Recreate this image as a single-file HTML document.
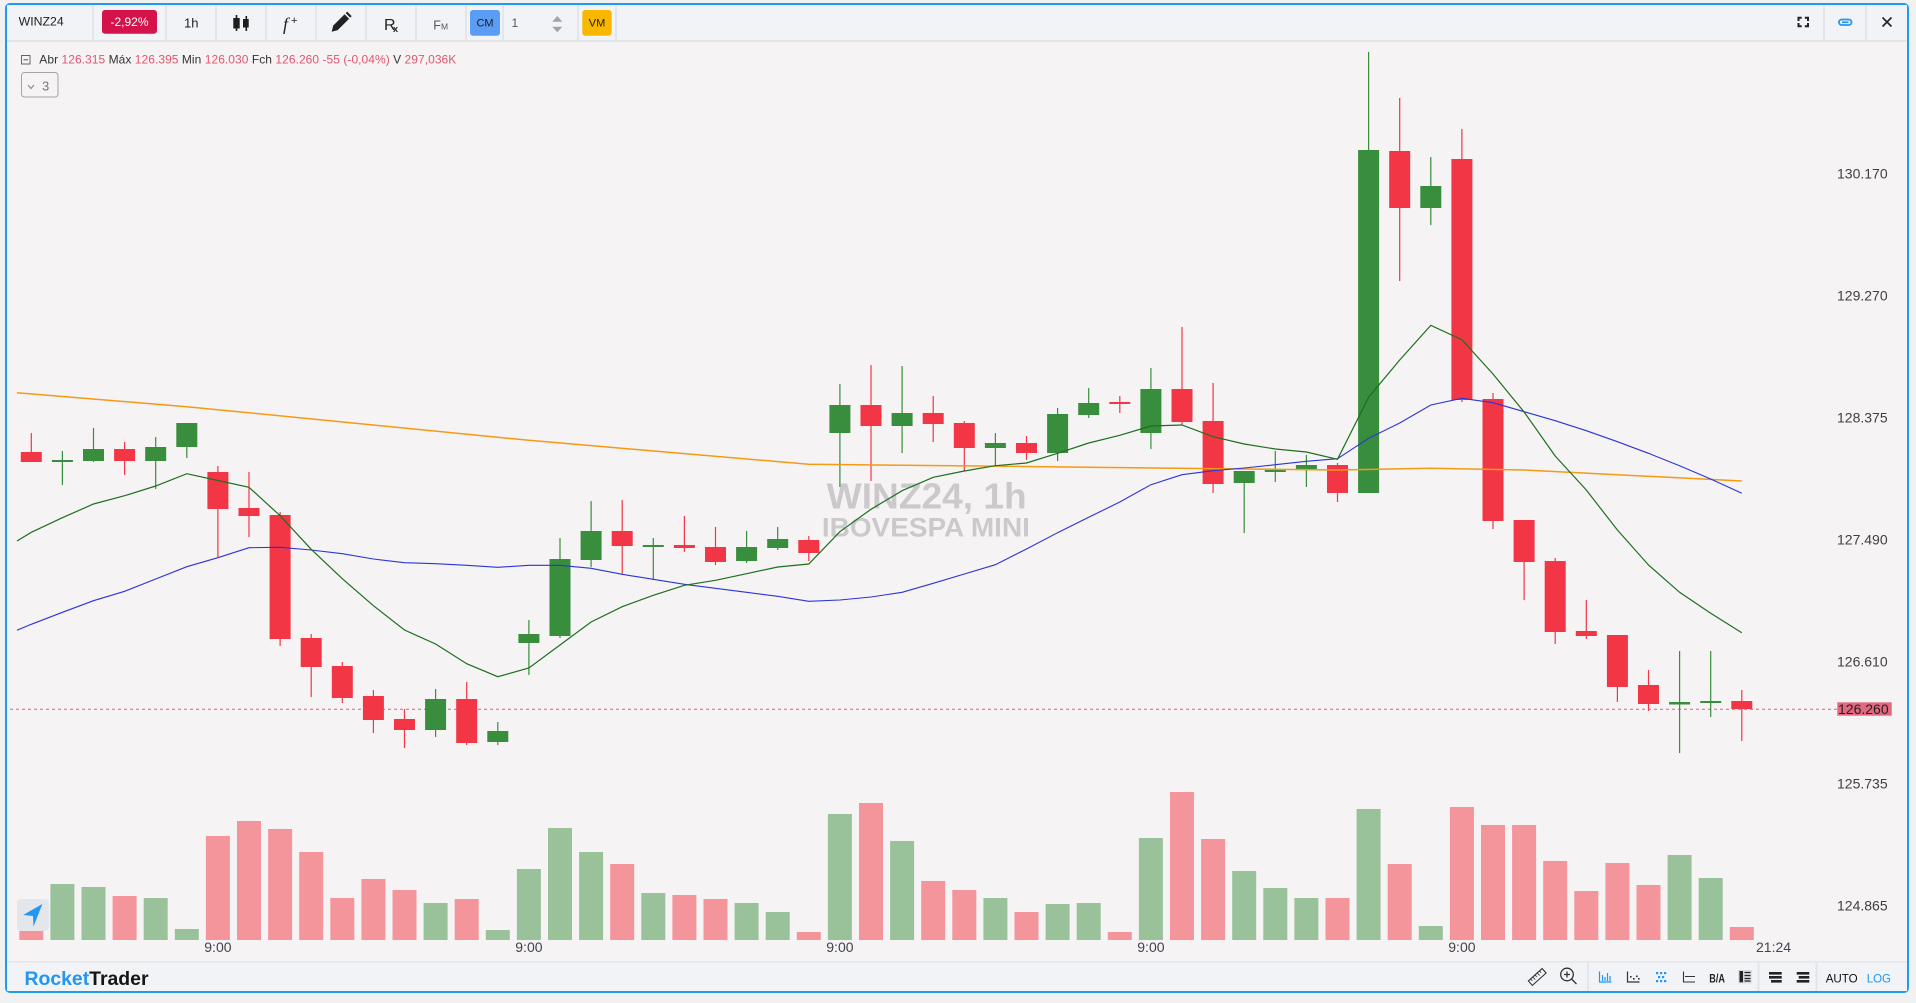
<!DOCTYPE html>
<html><head><meta charset="utf-8"><style>
html,body{margin:0;padding:0;background:#f1f1f1;}
body{width:1916px;height:1003px;position:relative;overflow:hidden;}
svg{position:absolute;left:0;top:0;}
</style></head><body>
<svg width="1916" height="1003" viewBox="0 0 1916 1003" font-family="Liberation Sans, sans-serif">
<rect x="0" y="0" width="1916" height="1003" fill="#f1f1f1"/>
<rect x="6" y="4" width="1902" height="988" rx="4" fill="#f5f3f4" stroke="#1e9bf0" stroke-width="2"/>
<!-- toolbar -->
<rect x="7" y="5" width="1900" height="35" fill="#f1f3f6"/>
<rect x="7" y="40" width="1900" height="2" fill="#e2e5e9"/>
<g fill="#e2e5e9">
<rect x="92" y="5" width="2" height="35"/><rect x="165" y="5" width="2" height="35"/><rect x="215" y="5" width="2" height="35"/>
<rect x="265" y="5" width="2" height="35"/><rect x="315" y="5" width="2" height="35"/><rect x="365" y="5" width="2" height="35"/>
<rect x="415" y="5" width="2" height="35"/><rect x="465" y="5" width="2" height="35"/><rect x="502" y="5" width="2" height="35"/>
<rect x="577" y="5" width="2" height="35"/><rect x="615" y="5" width="2" height="35"/>
<rect x="1823" y="5" width="2" height="35"/><rect x="1865" y="5" width="2" height="35"/>
</g>
<text x="18.7" y="25.3" font-size="12" fill="#222" textLength="45" lengthAdjust="spacingAndGlyphs">WINZ24</text>
<rect x="102" y="10" width="55" height="23.7" rx="3" fill="#d3134a"/>
<text x="129.5" y="26" font-size="12" fill="#fff" text-anchor="middle">-2,92%</text>
<text x="184" y="27.5" font-size="13" fill="#222">1h</text>
<g fill="#1e1e1e">
<rect x="235.7" y="15" width="1.6" height="16"/><rect x="233.3" y="18" width="6.4" height="10.5"/>
<rect x="245.5" y="16" width="1.6" height="15"/><rect x="243" y="19" width="5.7" height="8.5"/>
</g>
<text x="283" y="30" font-family="Liberation Serif, serif" font-style="italic" font-size="18" fill="#222">f</text>
<text x="291" y="24" font-size="11" fill="#222">+</text>
<path d="M331.7 31.7 L333.2 25.6 L344.6 14.2 L349.1 18.7 L337.7 30.1 Z" fill="#222"/>
<path d="M345.7 13.1 L347.2 11.6 L351.7 16.1 L350.2 17.6 Z" fill="#222"/>
<text x="384" y="30" font-size="16" fill="#222">R</text>
<text x="393" y="32" font-size="9" font-weight="bold" fill="#222">x</text>
<text x="433.3" y="29.3" font-size="12.5" fill="#555">F</text>
<text x="441" y="29.3" font-size="8.5" fill="#555">M</text>
<rect x="470" y="10" width="30" height="25.7" rx="3" fill="#5b9df5"/>
<text x="485" y="26.7" font-size="11" fill="#1a1a2a" text-anchor="middle">CM</text>
<text x="511.5" y="27" font-size="12" fill="#555">1</text>
<path d="M552.3 21.7 L557.3 16 L562.3 21.7 Z" fill="#a0a4aa"/>
<path d="M552.3 26.7 L562.3 26.7 L557.3 32.3 Z" fill="#a0a4aa"/>
<rect x="582.3" y="10" width="29.4" height="25.7" rx="3" fill="#f8b800"/>
<text x="597" y="26.7" font-size="11" fill="#1a1a1a" text-anchor="middle">VM</text>
<path d="M1798.5 21 V17.8 H1801.7 M1804.8 17.8 H1808 V21 M1808 23 V26.2 H1804.8 M1801.7 26.2 H1798.5 V23" stroke="#222" stroke-width="2" fill="none"/>
<rect x="1839" y="19.5" width="12.5" height="5.5" rx="2.7" fill="none" stroke="#2196f3" stroke-width="1.8"/>
<rect x="1842" y="21.4" width="6.5" height="1.7" fill="#2196f3"/>
<path d="M1882.5 17.5 L1891.5 26.5 M1891.5 17.5 L1882.5 26.5" stroke="#222" stroke-width="1.6"/>
<!-- legend -->
<rect x="21.5" y="55.5" width="8.5" height="8.5" fill="none" stroke="#666" stroke-width="1"/>
<rect x="23.5" y="59.3" width="4.5" height="1" fill="#555"/>
<text x="39.3" y="63.6" font-size="12" fill="#333" textLength="417" lengthAdjust="spacing">Abr <tspan fill="#e0566f">126.315</tspan> Máx <tspan fill="#e0566f">126.395</tspan> Min <tspan fill="#e0566f">126.030</tspan> Fch <tspan fill="#e0566f">126.260 -55 (-0,04%)</tspan> V <tspan fill="#e0566f">297,036K</tspan></text>
<rect x="21.5" y="72.5" width="36.5" height="24.5" rx="3" fill="none" stroke="#a4a4a4" stroke-width="1"/>
<path d="M28 85 L31 88.5 L34 85" fill="none" stroke="#888" stroke-width="1.1"/>
<text x="42" y="90.5" font-size="13" fill="#777">3</text>
<!-- watermark -->
<text x="926.7" y="508.3" font-size="36" font-weight="bold" fill="#cbc9cb" text-anchor="middle" textLength="200" lengthAdjust="spacingAndGlyphs">WINZ24, 1h</text>
<text x="925.9" y="536.7" font-size="27" font-weight="bold" fill="#cbc9cb" text-anchor="middle" textLength="208" lengthAdjust="spacingAndGlyphs">IBOVESPA MINI</text>
<!-- volume -->
<g fill="#f4959b">
<rect x="19.3" y="931" width="24" height="9"/><rect x="112.6" y="896" width="24" height="44"/>
<rect x="205.9" y="836" width="24" height="104"/><rect x="237" y="821" width="24" height="119"/>
<rect x="268.1" y="829" width="24" height="111"/><rect x="299.2" y="852" width="24" height="88"/>
<rect x="330.3" y="898" width="24" height="42"/><rect x="361.4" y="879" width="24" height="61"/>
<rect x="392.5" y="890" width="24" height="50"/><rect x="454.7" y="899" width="24" height="41"/>
<rect x="610.2" y="864" width="24" height="76"/><rect x="672.4" y="895" width="24" height="45"/>
<rect x="703.5" y="899" width="24" height="41"/><rect x="796.8" y="932" width="24" height="8"/>
<rect x="859" y="803" width="24" height="137"/><rect x="921.2" y="881" width="24" height="59"/>
<rect x="952.3" y="890" width="24" height="50"/><rect x="1014.5" y="912" width="24" height="28"/>
<rect x="1107.8" y="932" width="24" height="8"/><rect x="1170" y="792" width="24" height="148"/>
<rect x="1201.1" y="839" width="24" height="101"/><rect x="1325.5" y="898" width="24" height="42"/>
<rect x="1387.7" y="864" width="24" height="76"/><rect x="1449.9" y="807" width="24" height="133"/>
<rect x="1481" y="825" width="24" height="115"/><rect x="1512.1" y="825" width="24" height="115"/>
<rect x="1543.2" y="861" width="24" height="79"/><rect x="1574.3" y="891" width="24" height="49"/>
<rect x="1605.4" y="863" width="24" height="77"/><rect x="1636.5" y="885" width="24" height="55"/>
<rect x="1729.8" y="927" width="24" height="13"/>
</g>
<g fill="#99c29a">
<rect x="50.4" y="884" width="24" height="56"/><rect x="81.5" y="887" width="24" height="53"/>
<rect x="143.7" y="898" width="24" height="42"/><rect x="174.8" y="929" width="24" height="11"/>
<rect x="423.6" y="903" width="24" height="37"/><rect x="485.8" y="930" width="24" height="10"/>
<rect x="516.9" y="869" width="24" height="71"/><rect x="548" y="828" width="24" height="112"/>
<rect x="579.1" y="852" width="24" height="88"/><rect x="641.3" y="893" width="24" height="47"/>
<rect x="734.6" y="903" width="24" height="37"/><rect x="765.7" y="912" width="24" height="28"/>
<rect x="827.9" y="814" width="24" height="126"/><rect x="890.1" y="841" width="24" height="99"/>
<rect x="983.4" y="898" width="24" height="42"/><rect x="1045.6" y="904" width="24" height="36"/>
<rect x="1076.7" y="903" width="24" height="37"/><rect x="1138.9" y="838" width="24" height="102"/>
<rect x="1232.2" y="871" width="24" height="69"/><rect x="1263.3" y="888" width="24" height="52"/>
<rect x="1294.4" y="898" width="24" height="42"/><rect x="1356.6" y="809" width="24" height="131"/>
<rect x="1418.8" y="926" width="24" height="14"/><rect x="1667.6" y="855" width="24" height="85"/>
<rect x="1698.7" y="878" width="24" height="62"/>
</g>
<!-- nav button -->
<rect x="17" y="899" width="32" height="32" rx="4" fill="#e3e6eb"/>
<polygon points="42.4,904 23.2,915 33,916 33.5,926.5" fill="#2196f3"/>
<!-- price line -->
<line x1="10" y1="709.3" x2="1837" y2="709.3" stroke="#e0607a" stroke-width="1" stroke-dasharray="3,3"/>
<!-- candles red -->
<g fill="#f23645">
<rect x="30.7" y="433" width="1.2" height="29"/><rect x="20.8" y="452" width="21" height="10"/>
<rect x="124" y="442" width="1.2" height="33"/><rect x="114.1" y="449" width="21" height="12"/>
<rect x="217.3" y="466" width="1.2" height="91"/><rect x="207.4" y="472" width="21" height="37"/>
<rect x="248.4" y="472" width="1.2" height="65"/><rect x="238.5" y="508" width="21" height="8"/>
<rect x="279.5" y="512" width="1.2" height="134"/><rect x="269.6" y="515" width="21" height="124"/>
<rect x="310.6" y="634" width="1.2" height="63"/><rect x="300.7" y="638" width="21" height="29"/>
<rect x="341.7" y="662" width="1.2" height="41"/><rect x="331.8" y="666" width="21" height="32"/>
<rect x="372.8" y="690" width="1.2" height="43"/><rect x="362.9" y="696" width="21" height="24"/>
<rect x="403.9" y="709" width="1.2" height="39"/><rect x="394" y="719" width="21" height="11"/>
<rect x="466.1" y="682" width="1.2" height="63"/><rect x="456.2" y="699" width="21" height="44"/>
<rect x="621.6" y="500" width="1.2" height="74"/><rect x="611.7" y="531" width="21" height="15"/>
<rect x="683.8" y="516" width="1.2" height="36"/><rect x="673.9" y="545" width="21" height="3"/>
<rect x="714.9" y="527" width="1.2" height="38"/><rect x="705" y="547" width="21" height="15"/>
<rect x="808.2" y="536" width="1.2" height="25"/><rect x="798.3" y="540" width="21" height="13"/>
<rect x="870.4" y="365" width="1.2" height="116"/><rect x="860.5" y="405" width="21" height="21"/>
<rect x="932.6" y="396" width="1.2" height="46"/><rect x="922.7" y="413" width="21" height="11"/>
<rect x="963.7" y="421" width="1.2" height="50"/><rect x="953.8" y="423" width="21" height="25"/>
<rect x="1025.9" y="436" width="1.2" height="24"/><rect x="1016" y="443" width="21" height="10"/>
<rect x="1119.2" y="396" width="1.2" height="17"/><rect x="1109.3" y="402" width="21" height="2"/>
<rect x="1181.4" y="327" width="1.2" height="98"/><rect x="1171.5" y="389" width="21" height="33"/>
<rect x="1212.5" y="383" width="1.2" height="110"/><rect x="1202.6" y="421" width="21" height="63"/>
<rect x="1336.9" y="463" width="1.2" height="39"/><rect x="1327" y="465" width="21" height="28"/>
<rect x="1399.1" y="98" width="1.2" height="183"/><rect x="1389.2" y="151" width="21" height="57"/>
<rect x="1461.3" y="129" width="1.2" height="273"/><rect x="1451.4" y="159" width="21" height="241"/>
<rect x="1492.4" y="393" width="1.2" height="136"/><rect x="1482.5" y="399" width="21" height="122"/>
<rect x="1523.5" y="520" width="1.2" height="80"/><rect x="1513.6" y="520" width="21" height="42"/>
<rect x="1554.6" y="558" width="1.2" height="86"/><rect x="1544.7" y="561" width="21" height="71"/>
<rect x="1585.7" y="600" width="1.2" height="39"/><rect x="1575.8" y="631" width="21" height="5"/>
<rect x="1616.8" y="635" width="1.2" height="67"/><rect x="1606.9" y="635" width="21" height="52"/>
<rect x="1647.9" y="670" width="1.2" height="41"/><rect x="1638" y="685" width="21" height="19"/>
<rect x="1741.2" y="690" width="1.2" height="51"/><rect x="1731.3" y="701" width="21" height="8"/>
</g>
<!-- candles green -->
<g fill="#388e3c">
<rect x="61.8" y="451" width="1.2" height="34"/><rect x="51.9" y="460" width="21" height="2"/>
<rect x="92.9" y="428" width="1.2" height="34"/><rect x="83" y="449" width="21" height="12"/>
<rect x="155.1" y="437" width="1.2" height="52"/><rect x="145.2" y="447" width="21" height="14"/>
<rect x="186.2" y="423" width="1.2" height="35"/><rect x="176.3" y="423" width="21" height="24"/>
<rect x="435" y="689" width="1.2" height="48"/><rect x="425.1" y="699" width="21" height="31"/>
<rect x="497.2" y="722" width="1.2" height="23"/><rect x="487.3" y="731" width="21" height="11"/>
<rect x="528.3" y="620" width="1.2" height="55"/><rect x="518.4" y="634" width="21" height="9"/>
<rect x="559.4" y="538" width="1.2" height="100"/><rect x="549.5" y="559" width="21" height="77"/>
<rect x="590.5" y="501" width="1.2" height="66"/><rect x="580.6" y="531" width="21" height="29"/>
<rect x="652.7" y="538" width="1.2" height="42"/><rect x="642.8" y="545" width="21" height="2"/>
<rect x="746" y="531" width="1.2" height="32"/><rect x="736.1" y="547" width="21" height="14"/>
<rect x="777.1" y="527" width="1.2" height="23"/><rect x="767.2" y="539" width="21" height="9"/>
<rect x="839.3" y="384" width="1.2" height="103"/><rect x="829.4" y="405" width="21" height="28"/>
<rect x="901.5" y="366" width="1.2" height="87"/><rect x="891.6" y="413" width="21" height="13"/>
<rect x="994.8" y="433" width="1.2" height="33"/><rect x="984.9" y="443" width="21" height="5"/>
<rect x="1057" y="408" width="1.2" height="53"/><rect x="1047.1" y="414" width="21" height="39"/>
<rect x="1088.1" y="388" width="1.2" height="30"/><rect x="1078.2" y="403" width="21" height="12"/>
<rect x="1150.3" y="368" width="1.2" height="81"/><rect x="1140.4" y="389" width="21" height="44"/>
<rect x="1243.6" y="471" width="1.2" height="62"/><rect x="1233.7" y="471" width="21" height="12"/>
<rect x="1274.7" y="451" width="1.2" height="31"/><rect x="1264.8" y="470" width="21" height="2"/>
<rect x="1305.8" y="455" width="1.2" height="32"/><rect x="1295.9" y="465" width="21" height="5"/>
<rect x="1368" y="52" width="1.2" height="441"/><rect x="1358.1" y="150" width="21" height="343"/>
<rect x="1430.2" y="157" width="1.2" height="68"/><rect x="1420.3" y="186" width="21" height="22"/>
<rect x="1679" y="651" width="1.2" height="102"/><rect x="1669.1" y="702" width="21" height="2.5"/>
<rect x="1710.1" y="651" width="1.2" height="66"/><rect x="1700.2" y="701" width="21" height="2"/>
</g>
<!-- moving averages -->
<polyline fill="none" stroke="#f59a14" stroke-width="1.5" points="17,392.7 186.8,406.7 528.9,440.3 808.8,464.3 1045,466.7 1244.2,469 1337.5,470 1430.8,468.3 1524.1,470 1741.8,481"/>
<polyline fill="none" stroke="#2b35d6" stroke-width="1.1" points="17,630.3 31.3,624.3 62.4,612.3 93.5,600.7 124.6,591.3 155.7,579 186.8,566.7 217.9,557.7 249,547.7 280.1,547.3 311.2,550 342.3,553.7 373.4,559 404.5,562.7 435.6,563.7 466.7,565.3 497.8,567.3 528.9,565.3 560,565.3 591.1,568.3 622.2,574.3 653.3,579.3 684.4,584.3 715.5,588.3 746.6,592.3 777.7,596.3 808.8,601.3 839.9,600 871,597 902.1,592.3 933.2,583.3 964.3,574 995.4,564.7 1026.5,549 1057.6,532.7 1088.7,517.3 1119.8,502 1150.9,484.7 1182,474.7 1213.1,470.7 1244.2,468 1275.3,464.7 1306.4,461.3 1337.5,458.7 1368.6,438.3 1399.7,423 1430.8,405 1461.9,398.3 1493,402.7 1524.1,411.7 1555.2,420.7 1586.3,430.7 1617.4,441.7 1648.5,453.3 1679.6,465.7 1710.7,479 1741.8,493.3"/>
<polyline fill="none" stroke="#1f6f1f" stroke-width="1.2" points="17,541 31.3,532.3 62.4,517.7 93.5,504 124.6,495.7 155.7,486 186.8,473.7 217.9,480.5 249,487.3 280.1,515.7 311.2,549.3 342.3,578.7 373.4,605.7 404.5,630 435.6,644 466.7,663.7 497.8,676.7 528.9,668 560,645 591.1,622 622.2,606.7 653.3,595.3 684.4,585.3 715.5,580.3 746.6,573.7 777.7,567 808.8,564 839.9,531.7 871,509.3 902.1,490.7 933.2,477.3 964.3,471 995.4,465.7 1026.5,463 1057.6,453.3 1088.7,443 1119.8,435.3 1150.9,426 1182,425 1213.1,436.7 1244.2,444 1275.3,449 1306.4,452 1337.5,459.3 1368.6,397.3 1399.7,360 1430.8,325.3 1461.9,339.7 1493,374 1524.1,412 1555.2,456 1586.3,490 1617.4,530 1648.5,565 1679.6,592.3 1710.7,613.3 1741.8,632.7"/>
<!-- price axis -->
<g font-size="14" fill="#3f3f3f">
<text x="1837" y="178.3">130.170</text>
<text x="1837" y="300.3">129.270</text>
<text x="1837" y="422.3">128.375</text>
<text x="1837" y="544.3">127.490</text>
<text x="1837" y="666.3">126.610</text>
<text x="1837" y="788.3">125.735</text>
<text x="1837" y="910.5">124.865</text>
</g>
<rect x="1837.3" y="702.3" width="54.4" height="13.4" fill="#e2687f"/>
<text x="1838" y="714.2" font-size="14" fill="#222">126.260</text>
<!-- time axis -->
<g font-size="14" fill="#41434d" text-anchor="middle">
<text x="217.9" y="952">9:00</text>
<text x="528.9" y="952">9:00</text>
<text x="839.9" y="952">9:00</text>
<text x="1150.9" y="952">9:00</text>
<text x="1461.9" y="952">9:00</text>
</g>
<text x="1756" y="952" font-size="14" fill="#41434d">21:24</text>
<!-- bottom bar -->
<rect x="7" y="962" width="1900" height="29" fill="#f1f3f6"/>
<rect x="7" y="961" width="1900" height="1.5" fill="#e2e5e9"/>
<g fill="#e2e5e9">
<rect x="1587" y="962" width="2" height="29"/><rect x="1757.5" y="962" width="2" height="29"/><rect x="1815.5" y="962" width="2" height="29"/>
</g>
<text x="24.5" y="985" font-size="19" font-weight="bold" textLength="124" lengthAdjust="spacingAndGlyphs"><tspan fill="#2196f3">Rocket</tspan><tspan fill="#151515">Trader</tspan></text>
<g transform="rotate(-42 1537.2 977)">
<rect x="1528" y="974" width="18.5" height="6" fill="none" stroke="#333" stroke-width="1.1"/>
<path d="M1531 974 V976.5 M1534 974 V977.5 M1537 974 V976.5 M1540 974 V977.5 M1543 974 V976.5" stroke="#333" stroke-width="0.9"/>
</g>
<circle cx="1567" cy="974.5" r="6.3" fill="none" stroke="#333" stroke-width="1.3"/>
<path d="M1564 974.5 H1570 M1567 971.5 V977.5 M1571.5 979 L1576.5 984" stroke="#333" stroke-width="1.3"/>
<path d="M1599.5 971.5 V982 H1611.5 M1602.5 975 V981 M1605 977 V981 M1607.5 973 V981 M1610 976 V981" stroke="#2196f3" stroke-width="1.2" fill="none"/>
<path d="M1627.5 971.5 V982 H1639.5" stroke="#333" stroke-width="1.2" fill="none"/>
<g fill="#333"><rect x="1630" y="976" width="1.6" height="1.6"/><rect x="1633" y="978" width="1.6" height="1.6"/><rect x="1636" y="975.5" width="1.6" height="1.6"/><rect x="1638" y="978" width="1.6" height="1.6"/></g>
<g fill="#2196f3"><rect x="1656" y="972" width="2.2" height="2.2"/><rect x="1660" y="972" width="2.2" height="2.2"/><rect x="1664" y="972" width="2.2" height="2.2"/><rect x="1658" y="976" width="2.2" height="2.2"/><rect x="1662" y="976" width="2.2" height="2.2"/><rect x="1656" y="980" width="2.2" height="2.2"/><rect x="1660" y="980" width="2.2" height="2.2"/><rect x="1664" y="980" width="2.2" height="2.2"/></g>
<path d="M1683.5 971.5 V982 H1695 M1685 976.5 H1695" stroke="#333" stroke-width="1.1" fill="none"/>
<text x="1709.3" y="982.3" font-size="12" font-weight="bold" fill="#222" textLength="15.7" lengthAdjust="spacingAndGlyphs">B/A</text>
<rect x="1738.3" y="970" width="13.4" height="13.3" fill="#d9dadd"/>
<rect x="1739.5" y="971" width="3.5" height="11.3" fill="#222"/>
<path d="M1744.5 972.5 H1750.5 M1744.5 975.5 H1750.5 M1744.5 978.5 H1750.5 M1744.5 981 H1750.5" stroke="#222" stroke-width="1.3"/>
<g fill="#222"><rect x="1769" y="972" width="12.7" height="2.6"/><rect x="1769" y="976" width="12.7" height="2.6"/><rect x="1771" y="980" width="10.7" height="2.6"/></g>
<g fill="#222"><rect x="1796.7" y="972" width="12.6" height="2.6"/><rect x="1798.7" y="976" width="10.6" height="2.6"/><rect x="1796.7" y="980" width="12.6" height="2.6"/></g>
<text x="1825.7" y="982.7" font-size="12" fill="#111" textLength="32" lengthAdjust="spacingAndGlyphs">AUTO</text>
<text x="1866.7" y="982.7" font-size="12" fill="#2196f3" textLength="24.3" lengthAdjust="spacingAndGlyphs">LOG</text>
</svg>
</body></html>
